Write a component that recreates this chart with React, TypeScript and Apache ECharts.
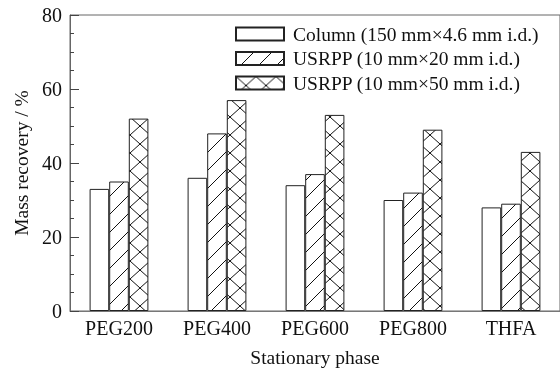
import React, { useEffect, useRef } from "react";
import * as echarts from "echarts";

const categories = ["PEG200", "PEG400", "PEG600", "PEG800", "THFA"];
const seriesNames = [
  "Column (150 mm×4.6 mm i.d.)",
  "USRPP (10 mm×20 mm i.d.)",
  "USRPP (10 mm×50 mm i.d.)",
];
const columnValues = [33, 36, 34, 30, 28];
const usrpp20Values = [35, 48, 37, 32, 29];
const usrpp50Values = [52, 57, 53, 49, 43];
const yTicks = [0, 20, 40, 60, 80];

const FONT = "'Liberation Serif', 'Times New Roman', serif";

function makeTile(w: number, h: number, cross: boolean): HTMLCanvasElement {
  const c = document.createElement("canvas");
  c.width = w;
  c.height = h;
  const ctx = c.getContext("2d")!;
  ctx.fillStyle = "#ffffff";
  ctx.fillRect(0, 0, w, h);
  ctx.strokeStyle = "#111111";
  ctx.lineWidth = 1;
  for (const dx of [-w, 0, w]) {
    ctx.beginPath();
    ctx.moveTo(dx, h);
    ctx.lineTo(dx + w, 0);
    ctx.stroke();
    if (cross) {
      ctx.beginPath();
      ctx.moveTo(dx, 0);
      ctx.lineTo(dx + w, h);
      ctx.stroke();
    }
  }
  return c;
}

export default function App() {
  const ref = useRef<HTMLDivElement>(null);
  useEffect(() => {
    if (!ref.current) return;
    const chart = echarts.init(ref.current, undefined, { renderer: "svg" });
    const diag = makeTile(18, 18, false);
    const cross = makeTile(20, 18, true);
    const data = [columnValues, usrpp20Values, usrpp50Values];
    const fills: any[] = [
      "#ffffff",
      { image: diag, repeat: "repeat", imageWidth: 18, imageHeight: 18 },
      { image: cross, repeat: "repeat", imageWidth: 20, imageHeight: 18 },
    ];
    chart.setOption({
      animation: false,
      textStyle: { fontFamily: FONT, color: "#111" },
      grid: {
        left: 70,
        top: 15,
        width: 492.5,
        height: 296,
        show: true,
        borderColor: "#666",
        borderWidth: 1,
      },
      legend: {
        orient: "vertical",
        left: 235,
        top: 24,
        padding: 0,
        itemWidth: 48,
        itemHeight: 13,
        itemGap: 4.5,
        icon: "rect",
        textStyle: {
          fontFamily: FONT,
          fontSize: 19.5,
          color: "#111",
          lineHeight: 20,
          padding: [0, 0, 0, 4],
        },
        data: seriesNames,
      },
      xAxis: {
        type: "category",
        data: categories,
        name: "Stationary phase",
        nameLocation: "middle",
        nameGap: 36,
        nameTextStyle: { fontFamily: FONT, fontSize: 19.5, color: "#111" },
        axisLine: { lineStyle: { color: "#777", width: 1 } },
        axisTick: { show: false },
        axisLabel: { fontFamily: FONT, fontSize: 20, color: "#111", margin: 7 },
        splitLine: { show: false },
      },
      yAxis: {
        type: "value",
        min: yTicks[0],
        max: yTicks[yTicks.length - 1],
        interval: 20,
        name: "Mass recovery / %",
        nameLocation: "middle",
        nameGap: 38,
        nameTextStyle: { fontFamily: FONT, fontSize: 19.5, color: "#111" },
        axisLine: { show: true, lineStyle: { color: "#666", width: 1 } },
        axisTick: { show: true, inside: true, length: 9, lineStyle: { color: "#444" } },
        minorTick: { show: true, splitNumber: 4, length: 4, lineStyle: { color: "#444" } },
        axisLabel: { fontFamily: FONT, fontSize: 20, color: "#111", margin: 8 },
        splitLine: { show: false },
      },
      series: seriesNames.map((name, i) => ({
        name,
        type: "bar",
        data: data[i],
        barGap: "0%",
        barCategoryGap: "40%",
        itemStyle: {
          color: fills[i],
          borderColor: "#222",
          borderWidth: 1,
        },
      })),
    });
    return () => chart.dispose();
  }, []);
  return (
    <div
      ref={ref}
      style={{ position: "fixed", left: 0, top: 0, width: 560, height: 375 }}
    />
  );
}
